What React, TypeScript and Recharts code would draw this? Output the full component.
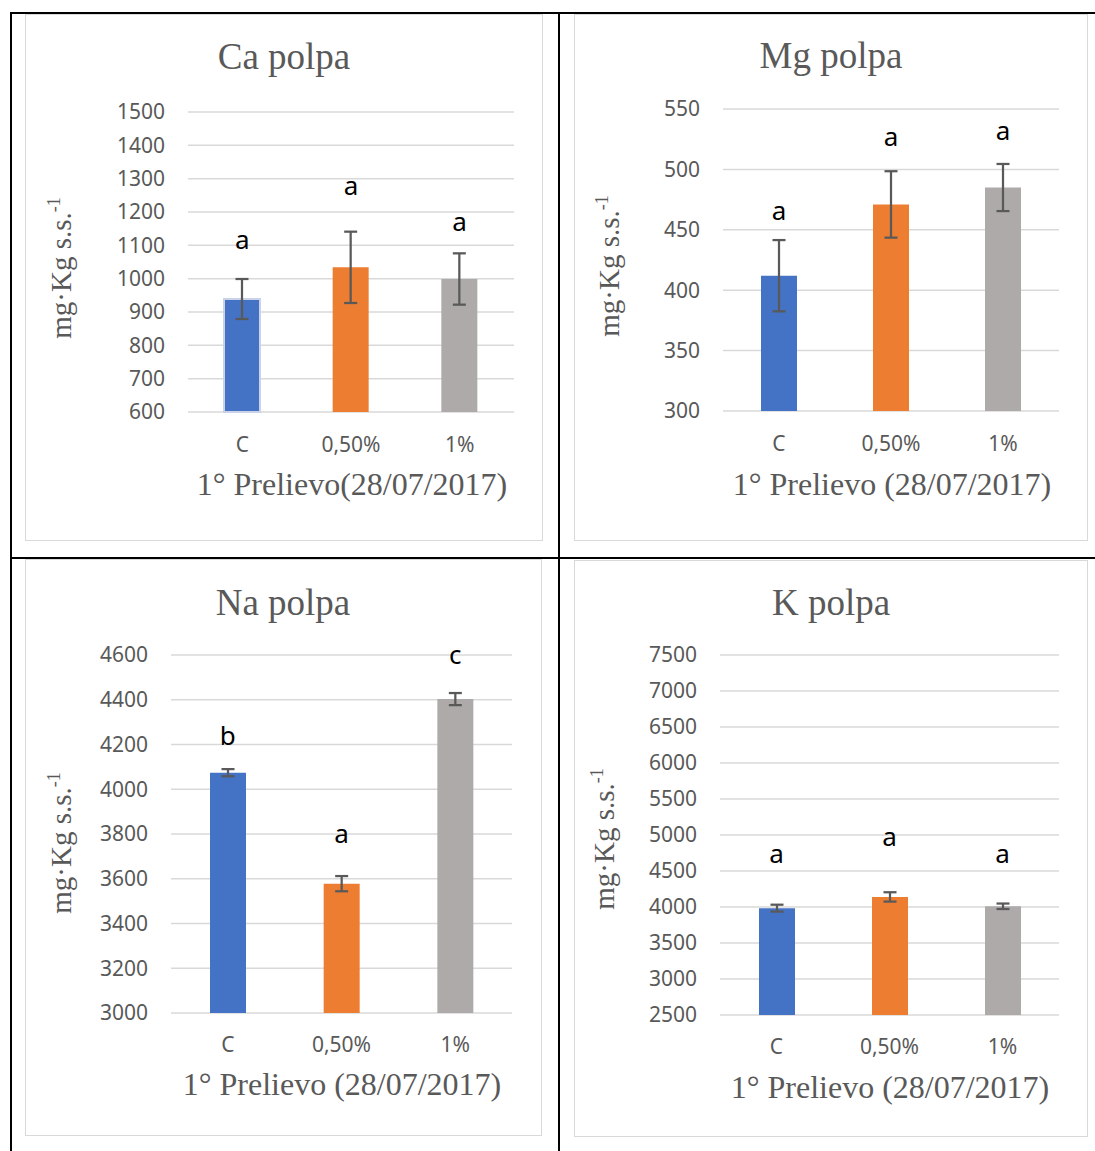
import React from 'react';
import { ComposedChart, Bar, ErrorBar, Scatter, XAxis, YAxis, CartesianGrid, Cell, Label } from 'recharts';

const categories = ['C', '0,50%', '1%'];
const barColors = ['#4472C4', '#ED7D31', '#AEAAAA'];

const caValues = [939, 1034, 999];
const caErrors = [60, 107, 77];
const caLetters = ['a', 'a', 'a'];
const caLetterY = [1110, 1271, 1163];
const caTicks = [600, 700, 800, 900, 1000, 1100, 1200, 1300, 1400, 1500];

const mgValues = [412, 471, 485];
const mgErrors = [29.5, 27.5, 19.5];
const mgLetters = ['a', 'a', 'a'];
const mgLetterY = [464, 525, 530];
const mgTicks = [300, 350, 400, 450, 500, 550];

const naValues = [4074, 3578, 4403];
const naErrors = [16, 34, 27];
const naLetters = ['b', 'a', 'c'];
const naLetterY = [4240, 3790, 4590];
const naTicks = [3000, 3200, 3400, 3600, 3800, 4000, 4200, 4400, 4600];

const kValues = [3984, 4140, 4010];
const kErrors = [48, 65, 38];
const kLetters = ['a', 'a', 'a'];
const kLetterY = [4704, 4946, 4704];
const kTicks = [2500, 3000, 3500, 4000, 4500, 5000, 5500, 6000, 6500, 7000, 7500];

const GREY = '#595959';
const SERIF = '"Liberation Serif", "Times New Roman", serif';
const SANS = '"Noto Sans", "Open Sans", sans-serif';

const LetterShape = (props: any) => {
  const { cx, cy, payload } = props;
  if (cx == null || cy == null) return null;
  return (
    <text x={cx} y={cy + (payload.letter === 'b' ? 9 : 7)} textAnchor="middle" fontSize={26} fontFamily={SANS} fill="#000">
      {payload.letter}
    </text>
  );
};

interface PanelProps {
  frame: { left: number; top: number; width: number; height: number };
  plot: { left: number; top: number; right: number; bottom: number };
  title: string;
  titlePos: [number, number];
  xTitle: string;
  xTitlePos: [number, number];
  yTitlePos: [number, number];
  xTickMargin: number;
  values: number[];
  errors: number[];
  letters: string[];
  letterY: number[];
  ticks: number[];
  outlineFirst?: boolean;
}

function Panel(p: PanelProps) {
  const { frame, plot } = p;
  const data = categories.map((cat, i) => ({
    cat,
    value: p.values[i],
    err: p.errors[i],
    letter: p.letters[i],
    letterY: p.letterY[i],
  }));
  const domain: [number, number] = [p.ticks[0], p.ticks[p.ticks.length - 1]];

  return (
    <>
      <div
        style={{
          position: 'absolute',
          left: frame.left,
          top: frame.top,
          width: frame.width,
          height: frame.height,
          border: '1.5px solid #d9d9d9',
          boxSizing: 'border-box',
        }}
      />
      <div style={{ position: 'absolute', left: frame.left, top: frame.top }}>
        <ComposedChart
          width={frame.width}
          height={frame.height}
          data={data}
          margin={{ top: plot.top, right: frame.width - plot.right, bottom: 0, left: 0 }}
        >
          <CartesianGrid vertical={false} stroke="#d9d9d9" strokeWidth={1.5} />
          <XAxis
            dataKey="cat"
            axisLine={false}
            tickLine={false}
            tickSize={0}
            tickMargin={p.xTickMargin}
            height={frame.height - plot.bottom}
            interval={0}
            tick={{ fill: GREY, fontSize: 21, fontFamily: SANS }}
          />
          <YAxis
            type="number"
            domain={domain}
            ticks={p.ticks}
            interval={0}
            width={plot.left}
            axisLine={false}
            tickLine={false}
            tickSize={0}
            tickMargin={23}
            tick={{ fill: GREY, fontSize: 21, fontFamily: SANS }}
          >
            <Label
              content={() => (
                <text
                  x={p.yTitlePos[0]}
                  y={p.yTitlePos[1]}
                  transform={`rotate(-90, ${p.yTitlePos[0]}, ${p.yTitlePos[1]})`}
                  textAnchor="middle"
                  fontFamily={SERIF}
                  fontSize={29}
                  fill={GREY}
                >
                  mg·Kg s.s.
                  <tspan dy={-11} fontSize={18}>-1</tspan>
                </text>
              )}
            />
          </YAxis>
          <Bar dataKey="value" barSize={36} isAnimationActive={false}>
            {data.map((d, i) => (
              <Cell
                key={d.cat}
                fill={barColors[i]}
                stroke={p.outlineFirst && i === 0 ? '#c9d2e6' : 'none'}
                strokeWidth={p.outlineFirst && i === 0 ? 2 : 0}
              />
            ))}
            <ErrorBar dataKey="err" direction="y" width={6.5} stroke={GREY} strokeWidth={2.25} />
          </Bar>
          <Scatter dataKey="letterY" isAnimationActive={false} shape={LetterShape} />
          <text x={p.titlePos[0]} y={p.titlePos[1]} textAnchor="middle" fontFamily={SERIF} fontSize={37} fill={GREY}>
            {p.title}
          </text>
          <text x={p.xTitlePos[0]} y={p.xTitlePos[1]} textAnchor="middle" fontFamily={SERIF} fontSize={32} fill={GREY}>
            {p.xTitle}
          </text>
        </ComposedChart>
      </div>
    </>
  );
}

const line = (left: number, top: number, width: number, height: number) => (
  <div style={{ position: 'absolute', left, top, width, height, background: '#000' }} />
);

export default function App() {
  return (
    <div style={{ position: 'absolute', left: 0, top: 0, width: 1095, height: 1151, background: '#fff', overflow: 'hidden' }}>
      {line(10, 12, 1085, 2)}
      {line(10, 12, 2, 1139)}
      {line(558, 12, 2, 1139)}
      {line(10, 557, 1085, 2)}

      <Panel
        frame={{ left: 25, top: 14, width: 518, height: 527 }}
        plot={{ left: 163, top: 98, right: 489, bottom: 398 }}
        title="Ca polpa"
        titlePos={[259, 55]}
        xTitle="1° Prelievo(28/07/2017)"
        xTitlePos={[327, 481]}
        yTitlePos={[46, 254]}
        xTickMargin={25}
        values={caValues}
        errors={caErrors}
        letters={caLetters}
        letterY={caLetterY}
        ticks={caTicks}
        outlineFirst
      />
      <Panel
        frame={{ left: 574, top: 14, width: 514, height: 527 }}
        plot={{ left: 149, top: 95, right: 485, bottom: 397 }}
        title="Mg polpa"
        titlePos={[257, 54]}
        xTitle="1° Prelievo (28/07/2017)"
        xTitlePos={[318, 481]}
        yTitlePos={[45, 252]}
        xTickMargin={25}
        values={mgValues}
        errors={mgErrors}
        letters={mgLetters}
        letterY={mgLetterY}
        ticks={mgTicks}
      />
      <Panel
        frame={{ left: 25, top: 559, width: 517, height: 577 }}
        plot={{ left: 146, top: 96, right: 487, bottom: 454 }}
        title="Na polpa"
        titlePos={[258, 56]}
        xTitle="1° Prelievo (28/07/2017)"
        xTitlePos={[317, 536]}
        yTitlePos={[46, 284]}
        xTickMargin={24}
        values={naValues}
        errors={naErrors}
        letters={naLetters}
        letterY={naLetterY}
        ticks={naTicks}
      />
      <Panel
        frame={{ left: 574, top: 560, width: 514, height: 577 }}
        plot={{ left: 146, top: 95, right: 485, bottom: 455 }}
        title="K polpa"
        titlePos={[257, 55]}
        xTitle="1° Prelievo (28/07/2017)"
        xTitlePos={[316, 538]}
        yTitlePos={[40, 279]}
        xTickMargin={24}
        values={kValues}
        errors={kErrors}
        letters={kLetters}
        letterY={kLetterY}
        ticks={kTicks}
      />
    </div>
  );
}
